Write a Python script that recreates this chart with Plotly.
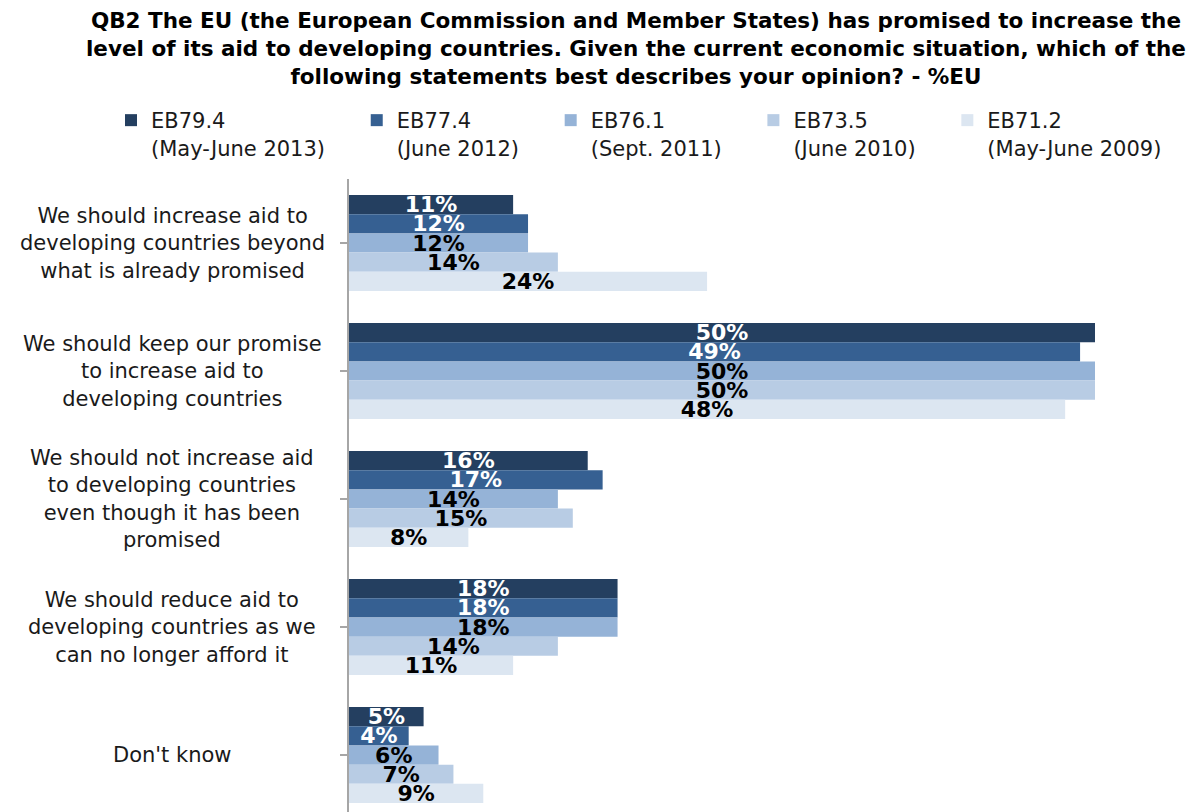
import plotly.graph_objects as go

categories = [
    "We should increase aid to<br>developing countries beyond<br>what is already promised",
    "We should keep our promise<br>to increase aid to<br>developing countries",
    "We should not increase aid<br>to developing countries<br>even though it has been<br>promised",
    "We should reduce aid to<br>developing countries as we<br>can no longer afford it",
    "Don't know",
]
series_names = [
    "EB79.4<br>(May-June 2013)",
    "EB77.4<br>(June 2012)",
    "EB76.1<br>(Sept. 2011)",
    "EB73.5<br>(June 2010)",
    "EB71.2<br>(May-June 2009)",
]
eb79_4 = [11, 50, 16, 18, 5]
eb77_4 = [12, 49, 17, 18, 4]
eb76_1 = [12, 50, 14, 18, 6]
eb73_5 = [14, 50, 15, 14, 7]
eb71_2 = [24, 48, 8, 11, 9]
values = [eb79_4, eb77_4, eb76_1, eb73_5, eb71_2]
colors = ["#243F60", "#366092", "#95B3D7", "#B8CCE4", "#DCE6F1"]
text_colors = ["white", "white", "black", "black", "black"]

title_text = ("QB2 The EU (the European Commission and Member States) has promised to increase the<br>"
              "level of its aid to developing countries. Given the current economic situation, which of the<br>"
              "following statements best describes your opinion? - %EU")

# page has an 8px body margin; figure is sized to fill the rest of the window
OFF = 8
W, H = 1197 - OFF, 812 - OFF
L, R, T, B = 341, 7, 171, 0
pw = W - L - R
ph = H - T - B

def px(page_x):
    return (page_x - OFF - L) / pw

def py(page_y):
    return 1 - (page_y - OFF - T) / ph

FONT = "DejaVu Sans"
fig = go.Figure()
ypos = list(range(len(categories)))
for name, vals, col, tcol in zip(series_names, values, colors, text_colors):
    fig.add_trace(go.Bar(
        y=ypos, x=vals, name=name + "&nbsp;&nbsp;&nbsp;&nbsp;", orientation="h",
        marker=dict(color=col, line=dict(width=0)),
        texttemplate="%{x}%", textposition="inside", insidetextanchor="middle",
        textangle=0, constraintext="none", cliponaxis=False,
        textfont=dict(family=FONT, size=22, color=tcol, weight="bold"),
        hoverinfo="skip",
    ))

for i, c in enumerate(categories):
    fig.add_annotation(
        x=px(172), xref="paper", y=i, yref="y",
        text=c, showarrow=False, xanchor="center", yanchor="middle", align="center",
        font=dict(family=FONT, size=21, color="#1a1a1a"),
    )

fig.add_annotation(
    x=px(636), xref="paper", y=py(49), yref="paper",
    text=title_text, showarrow=False, xanchor="center", yanchor="middle", align="center",
    font=dict(family=FONT, size=21.5, color="black", weight="bold"),
)

fig.update_layout(
    width=W, height=H,
    margin=dict(l=L, r=R, t=T, b=B, pad=0),
    paper_bgcolor="white", plot_bgcolor="white",
    barmode="group", bargap=0.25, bargroupgap=0,
    uniformtext=dict(minsize=22, mode="show"),
    legend=dict(orientation="h", x=px(111), xanchor="left",
                y=py(100), yanchor="top",
                valign="top", traceorder="normal",
                font=dict(family=FONT, size=21, color="#1a1a1a"),
                itemwidth=30, bgcolor="rgba(0,0,0,0)"),
    xaxis=dict(range=[0, pw / ((1095 - OFF - L) / 50)], visible=False, showgrid=False, zeroline=False),
    yaxis=dict(range=[4.445, -0.5], tickmode="array", tickvals=ypos, ticktext=[""] * 5,
               showticklabels=False, showgrid=False, zeroline=False,
               showline=True, linecolor="#A6A6A6", linewidth=2,
               ticks="outside", tickson="boundaries", ticklen=7, tickcolor="#A6A6A6", tickwidth=1.5),
    showlegend=True,
)

fig.write_html("out.html")
